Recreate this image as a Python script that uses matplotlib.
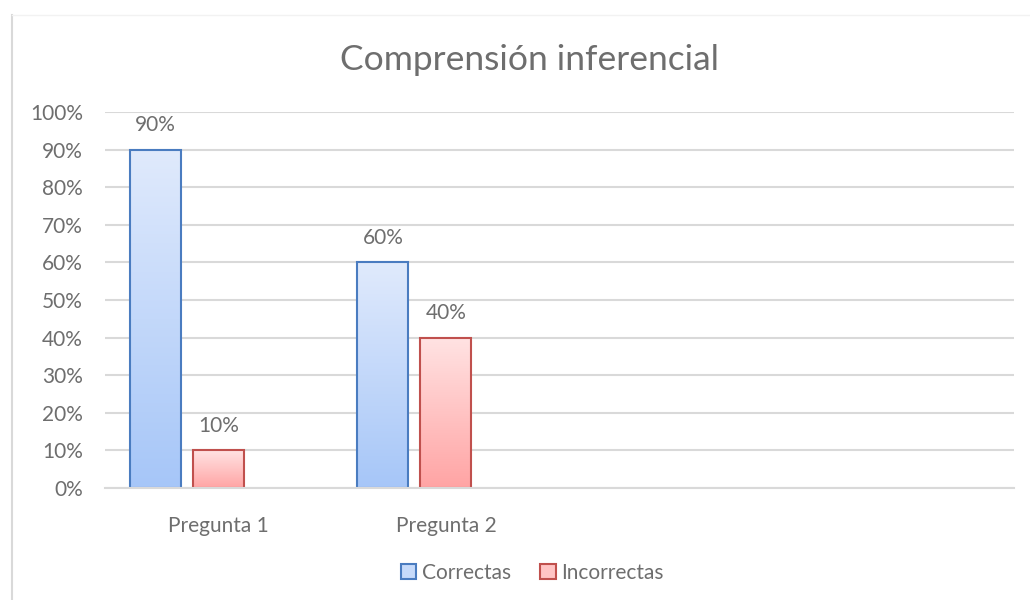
import matplotlib
matplotlib.use('Agg')
import matplotlib.pyplot as plt
import numpy as np
from matplotlib.colors import LinearSegmentedColormap
from matplotlib.patches import Rectangle
from matplotlib.lines import Line2D

plt.rcParams['font.family'] = ['Lato', 'DejaVu Sans']

categories = ['Pregunta 1', 'Pregunta 2', '', '']
correctas = [90, 60]
incorrectas = [10, 40]
series_names = ['Correctas', 'Incorrectas']
title = 'Comprensión inferencial'

text_col = '#6e6e6e'
blue_top, blue_bot, blue_edge = '#e0eafc', '#a6c6f8', '#4a7cc0'
red_top, red_bot, red_edge = '#ffe3e3', '#ffa4a4', '#c0504d'

fig = plt.figure(figsize=(10.3, 6), dpi=100)
# chart area border: left edge clear, top edge barely visible
fig.lines.append(Line2D([12 / 1030, 12 / 1030], [0, 1 - 15 / 600],
                        transform=fig.transFigure, color='#d9d9d9', linewidth=1.5))
fig.lines.append(Line2D([12 / 1030, 1], [1 - 15 / 600, 1 - 15 / 600],
                        transform=fig.transFigure, color='#f2f2f2', linewidth=1.0))
ax = fig.add_axes([105 / 1030, 1 - 488 / 600, 909 / 1030, 376 / 600])

x = np.arange(len(categories))
width = 0.225
offsets = [-0.277, 0.0]


def gradient_bars(xs, vals, top, bot, edge, label):
    cmap = LinearSegmentedColormap.from_list('g', [bot, top])
    bars = ax.bar(xs, vals, width, facecolor='none', edgecolor=edge,
                  linewidth=1.5, label=label, zorder=3)
    for b in bars:
        x0, y0 = b.get_x(), b.get_y()
        w, h = b.get_width(), b.get_height()
        grad = np.linspace(0, 1, 256).reshape(-1, 1)
        im = ax.imshow(grad, cmap=cmap, origin='lower', aspect='auto',
                       extent=[x0, x0 + w, y0, y0 + h], zorder=2)
        im.set_clip_path(b)
    for xi, v in zip(xs, vals):
        ax.text(xi, v + 6.5, f'{v}%', ha='center', va='center',
                fontsize=15, color=text_col)
    return bars


gradient_bars(x[:len(correctas)] + offsets[0], correctas, blue_top, blue_bot,
              blue_edge, series_names[0])
gradient_bars(x[:len(incorrectas)] + offsets[1], incorrectas, red_top, red_bot,
              red_edge, series_names[1])

ax.set_xlim(-0.5, len(categories) - 0.5)
ax.set_ylim(0, 100)
ax.set_yticks(np.arange(0, 101, 10))
ax.set_yticklabels([f'{v}%' for v in range(0, 101, 10)])
ax.set_xticks(x)
ax.set_xticklabels(categories)
ax.tick_params(axis='both', length=0, labelsize=15, colors=text_col)
ax.tick_params(axis='y', pad=16)
ax.tick_params(axis='x', pad=20)
ax.yaxis.grid(True, color='#d9d9d9', linewidth=1.5, zorder=0)
ax.set_axisbelow(True)
for s in ['top', 'right', 'left']:
    ax.spines[s].set_visible(False)
ax.spines['bottom'].set_color('#d9d9d9')
ax.spines['bottom'].set_linewidth(1.5)
ax.spines['bottom'].set_zorder(4)

fig.text(529 / 1030, 1 - 60 / 600, title, ha='center', va='center',
         fontsize=25.5, color=text_col)

h1 = Rectangle((0, 0), 1, 1, facecolor='#c6dafa', edgecolor=blue_edge, linewidth=1.5)
h2 = Rectangle((0, 0), 1, 1, facecolor='#ffc4c4', edgecolor=red_edge, linewidth=1.5)
fig.legend([h1, h2], series_names, loc='center', bbox_to_anchor=(532 / 1030, 1 - 573 / 600),
           ncol=2, frameon=False, fontsize=15, labelcolor=text_col,
           handlelength=0.75, handleheight=0.75, handletextpad=0.25, columnspacing=1.4)

fig.savefig('out.png', dpi=100)
